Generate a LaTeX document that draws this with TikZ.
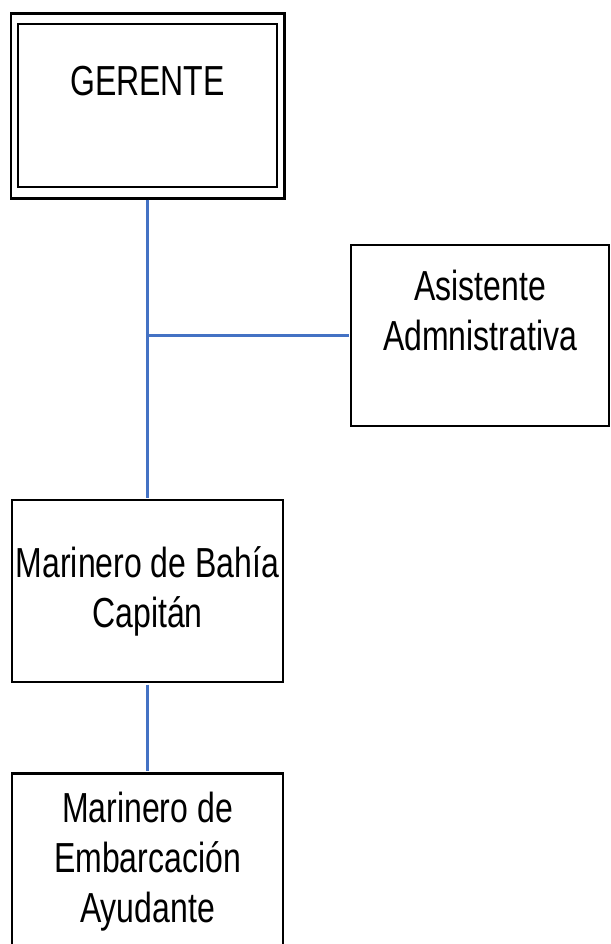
\documentclass[tikz,border=0pt]{standalone}
\usepackage{fontspec}
\setmainfont{Liberation Sans}[FakeStretch=0.762]
\usetikzlibrary{positioning}
\definecolor{azul}{RGB}{68,114,196}

\begin{document}
\begin{tikzpicture}[x=1pt,y=-1pt,
                   cargo/.style={draw,line width=2.5pt,minimum width=271pt,inner sep=0pt,align=center,
                                 font=\fontsize{42}{50}\selectfont},
                   linea/.style={draw=azul,line width=2.5pt,shorten <=1.25pt,shorten >=1.25pt}]
\useasboundingbox (0,0) rectangle (610,944);
\node[cargo,minimum width=259pt,minimum height=163pt] (gerente) at (147.5,105.5) {GERENTE\\ \mbox{}};
\draw[line width=2.5pt] ([shift={(-6pt,-10pt)}]gerente.south west) rectangle ([shift={(6pt,9pt)}]gerente.north east);
\node[cargo,minimum width=258pt,minimum height=181pt] (asistente) at (480,335.5) {Asistente\\Admnistrativa\\ \mbox{}};
\node[cargo,minimum height=182pt] (bahia) at (147.5,591) {Marinero de Bahía\\Capitán};
\node[cargo,minimum height=176pt,anchor=north] (embarcacion) at (147.5,772) {Marinero de\\Embarcación\\Ayudante};
\coordinate (rama) at (gerente.south |- asistente.west);
\draw[linea] ([yshift=-10pt]gerente.south) -- (bahia.north);
\draw[linea,shorten <=0pt] (rama) -- (asistente.west);
\draw[linea] (bahia.south) -- (embarcacion.north);
\end{tikzpicture}
\end{document}
